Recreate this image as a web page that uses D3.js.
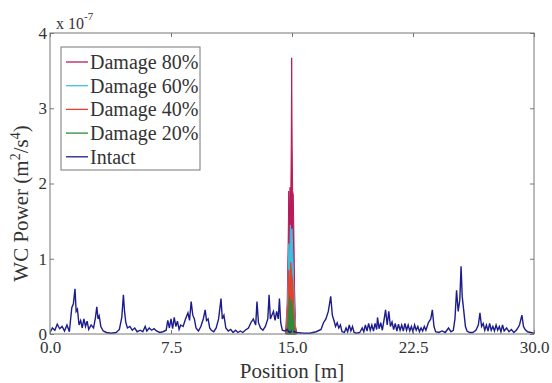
<!DOCTYPE html>
<html>
<head>
<meta charset="UTF-8">
<script src="https://d3js.org/d3.v7.min.js"></script>
<style>
  body { margin: 0; background: #fff; }
  svg text { font-family: "Liberation Serif", "Times New Roman", "DejaVu Serif", serif; fill: #333; }
  .tick line { stroke: #777; }
</style>
</head>
<body>
<script>
// chart data (values in units of 1e-7 m^2/s^4)
const xTicks = [0, 7.5, 15, 22.5, 30];
const yTicks = [0, 1, 2, 3, 4];
const seriesNames = ["Damage 80%", "Damage 60%", "Damage 40%", "Damage 20%", "Intact"];
const seriesColors = ["#b81a5a", "#3cc0e0", "#e8402a", "#2e8b3a", "#1c1c8c"];

const damage80 = [[14.6,0.03],[14.7,0.4],[14.76,1.2],[14.8,1.9],[14.84,1.6],[14.88,1.95],[14.92,1.7],[14.95,2.45],[14.98,3.67],[15.01,2.5],[15.04,1.9],[15.08,1.85],[15.12,1.3],[15.16,0.6],[15.22,0.1],[15.3,0.02]];
const damage60 = [[14.65,0.02],[14.75,0.6],[14.8,1.2],[14.86,1.0],[14.9,1.45],[14.95,1.3],[15.0,1.4],[15.05,1.1],[15.1,0.7],[15.15,0.3],[15.25,0.02]];
const damage40 = [[14.65,0.02],[14.75,0.4],[14.8,0.85],[14.86,0.6],[14.92,0.95],[14.98,0.8],[15.04,0.7],[15.1,0.4],[15.16,0.15],[15.25,0.02]];
const damage20 = [[14.7,0.02],[14.8,0.3],[14.86,0.5],[14.92,0.35],[14.98,0.45],[15.04,0.3],[15.1,0.1],[15.2,0.02]];

const intact = [
  [0.0,0.02],[0.15,0.08],[0.3,0.05],[0.45,0.13],[0.6,0.07],[0.75,0.1],[0.9,0.04],[1.05,0.12],[1.2,0.03],
  [1.35,0.35],[1.45,0.4],[1.55,0.6],[1.62,0.3],[1.7,0.33],[1.8,0.12],[1.9,0.18],[2.0,0.08],[2.1,0.2],
  [2.2,0.1],[2.3,0.17],[2.4,0.06],[2.55,0.12],[2.7,0.08],[2.82,0.22],[2.9,0.36],[2.98,0.2],[3.05,0.24],
  [3.15,0.1],[3.3,0.04],[3.5,0.02],[3.8,0.01],[4.1,0.02],[4.3,0.06],[4.45,0.22],[4.55,0.52],[4.62,0.3],
  [4.7,0.15],[4.8,0.08],[4.95,0.1],[5.1,0.05],[5.25,0.08],[5.4,0.03],[5.6,0.05],[5.75,0.03],[5.9,0.1],
  [6.0,0.04],[6.15,0.08],[6.3,0.05],[6.45,0.07],[6.6,0.04],[6.8,0.02],[7.0,0.03],[7.2,0.05],[7.3,0.18],
  [7.4,0.08],[7.5,0.2],[7.6,0.07],[7.7,0.22],[7.8,0.1],[7.9,0.17],[8.0,0.06],[8.1,0.12],[8.25,0.1],
  [8.4,0.2],[8.55,0.28],[8.65,0.18],[8.75,0.43],[8.85,0.25],[8.95,0.2],[9.05,0.08],[9.2,0.04],[9.35,0.1],
  [9.5,0.2],[9.62,0.32],[9.7,0.18],[9.8,0.2],[9.9,0.08],[10.0,0.05],[10.15,0.03],[10.3,0.08],[10.45,0.2],
  [10.6,0.47],[10.68,0.2],[10.78,0.25],[10.9,0.08],[11.05,0.04],[11.2,0.06],[11.35,0.02],[11.5,0.05],
  [11.65,0.02],[11.8,0.04],[11.95,0.02],[12.1,0.05],[12.3,0.08],[12.45,0.15],[12.6,0.2],[12.75,0.12],
  [12.83,0.43],[12.92,0.15],[13.05,0.08],[13.2,0.05],[13.35,0.1],[13.5,0.2],[13.58,0.52],[13.66,0.2],
  [13.75,0.25],[13.85,0.3],[13.95,0.18],[14.05,0.3],[14.15,0.2],[14.22,0.47],[14.3,0.15],[14.4,0.05],
  [14.55,0.04],[14.7,0.06],[14.85,0.02],[15.0,0.04],[15.15,0.03],[15.3,0.02],[15.7,0.01],[16.1,0.01],
  [16.5,0.03],[16.8,0.06],[16.95,0.15],[17.1,0.2],[17.25,0.3],[17.4,0.5],[17.5,0.25],[17.6,0.18],
  [17.7,0.1],[17.8,0.15],[17.9,0.08],[18.0,0.12],[18.1,0.03],[18.25,0.02],[18.35,0.08],[18.45,0.03],
  [18.55,0.12],[18.65,0.04],[18.75,0.1],[18.85,0.02],[19.0,0.01],[19.2,0.02],[19.35,0.08],[19.45,0.03],
  [19.55,0.12],[19.65,0.04],[19.75,0.14],[19.85,0.05],[19.95,0.12],[20.05,0.04],[20.15,0.14],[20.25,0.06],
  [20.3,0.22],[20.4,0.07],[20.5,0.15],[20.6,0.05],[20.7,0.18],[20.8,0.32],[20.9,0.12],[21.0,0.3],
  [21.1,0.1],[21.2,0.16],[21.3,0.06],[21.4,0.14],[21.5,0.04],[21.6,0.13],[21.7,0.05],[21.8,0.12],
  [21.9,0.04],[22.0,0.14],[22.1,0.05],[22.2,0.12],[22.3,0.04],[22.4,0.1],[22.5,0.03],[22.6,0.12],
  [22.7,0.05],[22.8,0.1],[22.9,0.03],[23.0,0.08],[23.1,0.04],[23.2,0.1],[23.3,0.05],[23.45,0.15],
  [23.6,0.2],[23.7,0.32],[23.8,0.1],[23.9,0.03],[24.1,0.02],[24.3,0.04],[24.5,0.02],[24.7,0.08],
  [24.85,0.03],[25.0,0.05],[25.1,0.2],[25.2,0.58],[25.3,0.3],[25.4,0.45],[25.48,0.9],[25.55,0.5],
  [25.65,0.3],[25.75,0.1],[25.85,0.04],[26.0,0.02],[26.2,0.02],[26.4,0.05],[26.55,0.12],[26.65,0.28],
  [26.75,0.1],[26.85,0.14],[26.95,0.05],[27.05,0.12],[27.15,0.04],[27.25,0.14],[27.35,0.05],[27.45,0.1],
  [27.55,0.04],[27.65,0.12],[27.75,0.05],[27.85,0.1],[27.95,0.03],[28.05,0.12],[28.15,0.04],[28.3,0.08],
  [28.45,0.03],[28.6,0.06],[28.75,0.02],[28.9,0.05],[29.0,0.08],[29.1,0.12],[29.25,0.25],[29.35,0.1],
  [29.45,0.06],[29.6,0.03],[29.8,0.02],[30.0,0.01]
];

const damageSeries = [damage80, damage60, damage40, damage20];
const serif = '"Liberation Serif", "Times New Roman", "DejaVu Serif", serif';

const W = 552, H = 383;
const margin = { top: 33, right: 18, bottom: 49, left: 50 };
const width = W - margin.left - margin.right;
const height = H - margin.top - margin.bottom;

const svg = d3.select("body").append("svg")
  .attr("width", W)
  .attr("height", H);

const g = svg.append("g")
  .attr("transform", "translate(" + margin.left + "," + margin.top + ")");

const x = d3.scaleLinear().domain([0, 30]).range([0, width]);
const y = d3.scaleLinear().domain([0, 4]).range([height, 0]);

// damage spikes: dense oscillation drawn as filled traces
const area = d3.area()
  .x(d => x(d[0]))
  .y0(y(0))
  .y1(d => y(d[1]));
const line = d3.line()
  .x(d => x(d[0]))
  .y(d => y(d[1]));

damageSeries.forEach((s, i) => {
  g.append("path")
    .datum(s)
    .attr("d", area)
    .attr("fill", seriesColors[i])
    .attr("stroke", seriesColors[i])
    .attr("stroke-width", 1);
});

g.append("path")
  .datum(intact)
  .attr("d", line)
  .attr("fill", "none")
  .attr("stroke", seriesColors[4])
  .attr("stroke-width", 1.4);

// axes, ticks pointing inward
const fmtX = d3.format(".1f");
g.append("g")
  .attr("transform", "translate(0," + height + ")")
  .call(d3.axisBottom(x).tickValues(xTicks).tickFormat(fmtX).tickSize(-4).tickPadding(7))
  .call(a => a.select(".domain").remove());
g.append("g")
  .call(d3.axisTop(x).tickValues(xTicks).tickFormat("").tickSize(-4))
  .call(a => a.select(".domain").remove());
g.append("g")
  .call(d3.axisLeft(y).tickValues(yTicks).tickFormat(d3.format("d")).tickSize(-4).tickPadding(3))
  .call(a => a.select(".domain").remove());
g.append("g")
  .attr("transform", "translate(" + width + ",0)")
  .call(d3.axisRight(y).tickValues(yTicks).tickFormat("").tickSize(-4))
  .call(a => a.select(".domain").remove());

g.selectAll(".tick text")
  .style("font-family", serif)
  .style("font-size", "17px")
  .style("fill", "#333");

g.append("rect")
  .attr("width", width)
  .attr("height", height)
  .attr("fill", "none")
  .attr("stroke", "#777")
  .attr("stroke-width", 1);

// exponent
const expo = svg.append("text")
  .attr("x", 56)
  .attr("y", 29)
  .style("font-family", serif)
  .style("font-size", "16px");
expo.append("tspan").text("x 10");
expo.append("tspan").attr("dy", -9).style("font-size", "11px").text("-7");

// axis labels
svg.append("text")
  .attr("x", margin.left + x(15))
  .attr("y", 378)
  .attr("text-anchor", "middle")
  .style("font-family", serif)
  .style("font-size", "21px")
  .text("Position [m]");

const yl = svg.append("text")
  .attr("transform", "translate(28," + (margin.top + height / 2 + 20) + ") rotate(-90)")
  .attr("text-anchor", "middle")
  .style("font-family", serif)
  .style("font-size", "21px");
yl.append("tspan").text("WC Power (m");
yl.append("tspan").attr("dy", -8).style("font-size", "14px").text("2");
yl.append("tspan").attr("dy", 8).text("/s");
yl.append("tspan").attr("dy", -8).style("font-size", "14px").text("4");
yl.append("tspan").attr("dy", 8).text(")");

// legend
const legend = svg.append("g");
legend.append("rect")
  .attr("x", 61)
  .attr("y", 47)
  .attr("width", 139)
  .attr("height", 123)
  .attr("fill", "#fff")
  .attr("stroke", "#777");
seriesNames.forEach((name, i) => {
  const ly = 62 + i * 23.7;
  legend.append("line")
    .attr("x1", 66).attr("x2", 88)
    .attr("y1", ly).attr("y2", ly)
    .attr("stroke", seriesColors[i])
    .attr("stroke-width", 1.3);
  legend.append("text")
    .attr("x", 90)
    .attr("y", ly)
    .attr("dy", "0.35em")
    .style("font-family", serif)
    .style("font-size", "20px")
    .text(name);
});
</script>
</body>
</html>
